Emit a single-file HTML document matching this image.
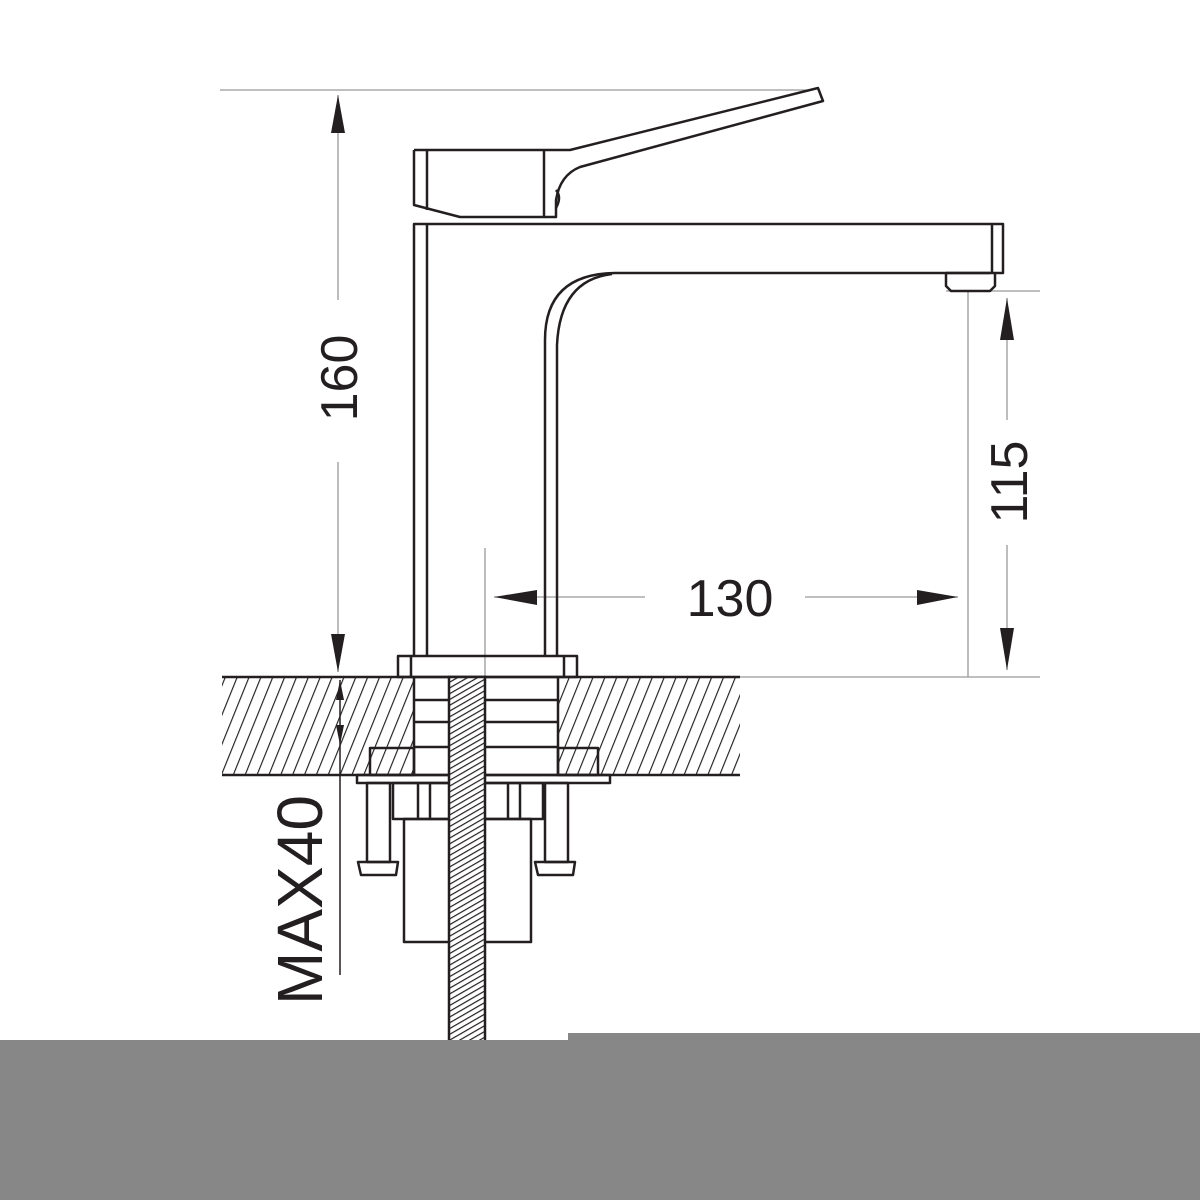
<!DOCTYPE html>
<html><head><style>html,body{margin:0;padding:0;background:#fff}svg{display:block}</style></head>
<body>
<svg width="1200" height="1200" viewBox="0 0 1200 1200" xmlns="http://www.w3.org/2000/svg">
<defs>
<pattern id="h" width="11" height="11" patternUnits="userSpaceOnUse" patternTransform="rotate(22)">
<line x1="0" y1="0" x2="0" y2="11" stroke="#231f20" stroke-width="2.3"/>
</pattern>
<pattern id="r" width="5" height="5" patternUnits="userSpaceOnUse" patternTransform="rotate(60)">
<line x1="0" y1="0" x2="0" y2="5" stroke="#231f20" stroke-width="2.4"/>
</pattern>
</defs>
<g stroke="#999" stroke-width="1.3" fill="none">
<line x1="220" y1="90" x2="812" y2="90"/>
<line x1="946" y1="291" x2="1040" y2="291"/>
<line x1="968" y1="291" x2="968" y2="677"/>
<line x1="740" y1="677" x2="1040" y2="677"/>
<line x1="485" y1="548" x2="485" y2="677"/>
<line x1="338" y1="95" x2="338" y2="300"/>
<line x1="338" y1="462" x2="338" y2="672"/>
<line x1="1007" y1="298" x2="1007" y2="420"/>
<line x1="1007" y1="545" x2="1007" y2="670"/>
<line x1="494" y1="597" x2="645" y2="597"/>
<line x1="805" y1="597" x2="958" y2="597"/>
</g>
<g stroke="#231f20" stroke-width="1.5" fill="none">
<line x1="340" y1="680" x2="340" y2="975"/>
</g>
<g fill="#231f20">
<polygon points="338,95 331,133 345,133"/>
<polygon points="338,672 331,634 345,634"/>
<polygon points="1007,298 1000,340 1014,340"/>
<polygon points="1007,670 1000,628 1014,628"/>
<polygon points="494,597 537,590 537,605"/>
<polygon points="958,597 917,590 917,605"/>
<polygon points="340,680 336,700 344,700"/>
<polygon points="340,745 336,725 344,725"/>
</g>
<g font-family="Liberation Sans, sans-serif" fill="#231f20">
<text x="0" y="0" font-size="52" text-anchor="middle" transform="translate(357,378) rotate(-90)">160</text>
<text x="0" y="0" font-size="52" text-anchor="middle" transform="translate(1027,482) rotate(-90)">115</text>
<text x="730" y="616" font-size="52" text-anchor="middle">130</text>
<text x="0" y="0" font-size="64" text-anchor="middle" transform="translate(322,900) rotate(-90)">MAX40</text>
</g>
<rect x="222" y="677" width="192" height="98" fill="url(#h)"/>
<rect x="558" y="677" width="182" height="98" fill="url(#h)"/>
<g stroke="#231f20" stroke-width="2.5" fill="none">
<line x1="222" y1="677" x2="740" y2="677"/>
<line x1="222" y1="775" x2="740" y2="775"/>
</g>
<g stroke="#231f20" stroke-width="2.5" fill="none" stroke-linejoin="round">
<path d="M414,150 H545 L570,150 L818,88 L823,101 L580,167 Q560,175 556,200 V217 H544"/>
<path d="M414,150 V205 L460,217 H544 V150"/>
<line x1="427" y1="150" x2="427" y2="210"/>
<path d="M556,190 Q562,197 556,208"/>
<path d="M414,656 V224 H1003 V273 H946"/>
<line x1="427" y1="224" x2="427" y2="656"/>
<line x1="992" y1="224" x2="992" y2="273"/>
<path d="M946,273 V286 L951,291 H990 L995,286 V273"/>
<path d="M990,273 H615 Q545,274 545,340 V656"/>
<path d="M557,656 V345 Q560,280 612,274"/>
<rect x="398" y="656" width="179" height="21"/>
<line x1="411" y1="656" x2="411" y2="677"/>
<line x1="564" y1="656" x2="564" y2="677"/>
<line x1="414" y1="677" x2="414" y2="775"/>
<line x1="558" y1="677" x2="558" y2="775"/>
<line x1="414" y1="700" x2="558" y2="700"/>
<line x1="414" y1="722" x2="558" y2="722"/>
<line x1="414" y1="747" x2="558" y2="747"/>
<rect x="370" y="748" width="44" height="27"/>
<rect x="558" y="748" width="40" height="27"/>
<rect x="357" y="775" width="253" height="8"/>
<rect x="393" y="783" width="150" height="36"/>
<line x1="418" y1="783" x2="418" y2="819"/>
<line x1="430" y1="783" x2="430" y2="819"/>
<line x1="508" y1="783" x2="508" y2="819"/>
<line x1="520" y1="783" x2="520" y2="819"/>
<rect x="367" y="783" width="23" height="79"/>
<rect x="545" y="783" width="23" height="79"/>
<path d="M358,862 H398 L396,875 H361 Z"/>
<path d="M535,862 H575 L573,875 H538 Z"/>
<rect x="404" y="819" width="127" height="123"/>
</g>
<rect x="449" y="677" width="36" height="365" fill="#fff"/>
<rect x="449" y="677" width="36" height="365" fill="url(#r)" stroke="#231f20" stroke-width="2.5"/>
<rect x="0" y="1040" width="1200" height="160" fill="#878787"/>
<rect x="568" y="1033" width="632" height="10" fill="#878787"/>
</svg>
</body></html>
